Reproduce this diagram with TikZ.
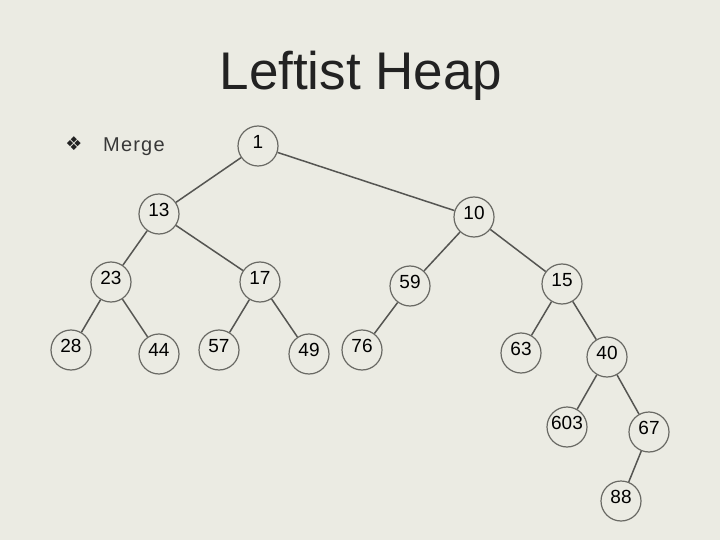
\documentclass[tikz,border=0pt]{standalone}
\usepackage{fontspec}
\setmainfont{Liberation Sans}
\newfontfamily\symfont{DejaVu Sans}
\definecolor{bg}{RGB}{235,235,227}
\definecolor{ink}{RGB}{34,34,34}
\definecolor{ring}{RGB}{105,105,100}
\definecolor{wire}{RGB}{85,85,82}
\begin{document}
\begin{tikzpicture}[x=1pt,y=-1pt,
  hn/.style={circle, draw=ring, line width=1.2pt, minimum size=40pt, inner sep=0pt},
  lbl/.style={yshift=4pt, font=\fontsize{19}{20}\selectfont, text=black, inner sep=0pt},
  edge/.style={draw=wire, line width=1.5pt}]
\fill[bg] (0,0) rectangle (720,540);
\useasboundingbox (0,0) rectangle (720,540);
\node[font=\fontsize{53}{60}\selectfont, text=ink, anchor=base, inner sep=0pt] (title) at (361,90) {Leftist Heap};
\node[font=\symfont\fontsize{19}{20}\selectfont, text=ink, inner sep=0pt] (bullet) at (74,144) {❖};
\node[font=\fontsize{20}{22}\selectfont\addfontfeature{LetterSpace=6}, text=ink!90, anchor=base west, inner sep=0pt] (merge) at (103,152) {Merge};

\node[hn, label={[lbl]center:1}] (n1) at (258,146) {};
\node[hn, label={[lbl]center:13}] (n13) at (159,214) {};
\node[hn, label={[lbl]center:10}] (n10) at (474,217) {};
\node[hn, label={[lbl]center:23}] (n23) at (111,282) {};
\node[hn, label={[lbl]center:17}] (n17) at (260,282) {};
\node[hn, label={[lbl]center:59}] (n59) at (410,286) {};
\node[hn, label={[lbl]center:15}] (n15) at (562,284) {};
\node[hn, label={[lbl]center:28}] (n28) at (71,350) {};
\node[hn, label={[lbl]center:44}] (n44) at (159,354) {};
\node[hn, label={[lbl]center:57}] (n57) at (219,350) {};
\node[hn, label={[lbl]center:49}] (n49) at (309,354) {};
\node[hn, label={[lbl]center:76}] (n76) at (362,350) {};
\node[hn, label={[lbl]center:63}] (n63) at (521,353) {};
\node[hn, label={[lbl]center:40}] (n40) at (607,357) {};
\node[hn, label={[lbl]center:603}] (n603) at (567,427) {};
\node[hn, label={[lbl]center:67}] (n67) at (649,432) {};
\node[hn, label={[lbl]center:88}] (n88) at (621,501) {};

\draw[edge] (n1) -- (n13);
\draw[edge] (n1) -- (n10);
\draw[edge] (n13) -- (n23);
\draw[edge] (n13) -- (n17);
\draw[edge] (n23) -- (n28);
\draw[edge] (n23) -- (n44);
\draw[edge] (n17) -- (n57);
\draw[edge] (n17) -- (n49);
\draw[edge] (n10) -- (n59);
\draw[edge] (n10) -- (n15);
\draw[edge] (n59) -- (n76);
\draw[edge] (n15) -- (n63);
\draw[edge] (n15) -- (n40);
\draw[edge] (n40) -- (n603);
\draw[edge] (n40) -- (n67);
\draw[edge] (n67) -- (n88);
\end{tikzpicture}
\end{document}
